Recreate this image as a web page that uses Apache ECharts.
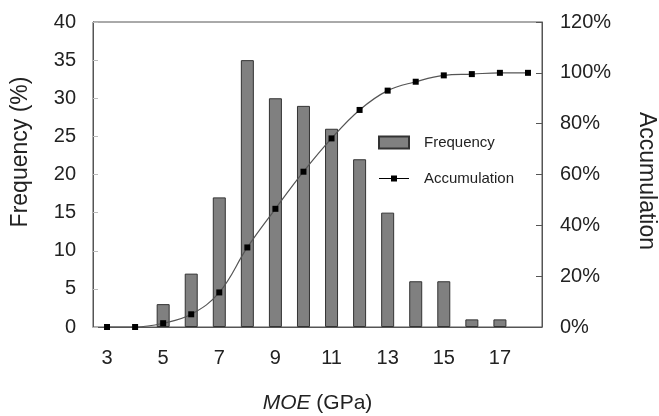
<!DOCTYPE html>
<html>
<head>
<meta charset="utf-8">
<script src="https://cdn.jsdelivr.net/npm/echarts@6/dist/echarts.min.js"></script>
<style>
  html, body { margin: 0; padding: 0; background: #fff; }
  #chart { width: 659px; height: 416px; }
</style>
</head>
<body>
<div id="chart"></div>
<script>
// MOE classes (GPa)
const categories = ['3', '4', '5', '6', '7', '8', '9', '10', '11', '12', '13', '14', '15', '16', '17', '18'];
// Frequency per class (%)
const frequency = [0, 0, 3, 7, 17, 35, 30, 29, 26, 22, 15, 6, 6, 1, 1, 0];
// Cumulative share (%)
const accumulation = [0, 0, 1.5, 5, 13.6, 31.3, 46.5, 61.1, 74.2, 85.4, 93, 96.5, 99, 99.5, 100, 100];
// Left and right axis tick settings
const freqAxis = { min: 0, max: 40, interval: 5 };
const accAxis = { min: 0, max: 120, interval: 20 };

const font = 'Liberation Sans, Arial, sans-serif';
const textColor = '#222';

// empty classes get no bar outline
const barData = frequency.map(v => (v === 0 ? '-' : v));

const chart = echarts.init(document.getElementById('chart'), null, { renderer: 'canvas' });
chart.setOption({
  animation: false,
  backgroundColor: '#fff',
  grid: {
    left: 93, right: 117, top: 22, bottom: 89,
    outerBoundsMode: 'none',
    containLabel: false,
    show: true, borderColor: '#555', borderWidth: 1
  },
  // vertical axis titles
  graphic: [
    {
      type: 'text',
      x: 21, y: 152,
      rotation: Math.PI / 2,
      style: {
        text: 'Frequency (%)',
        font: '23px ' + font,
        fill: textColor,
        align: 'center',
        verticalAlign: 'middle'
      }
    },
    {
      type: 'text',
      x: 646, y: 181,
      rotation: -Math.PI / 2,
      style: {
        text: 'Accumulation',
        font: '23px ' + font,
        fill: textColor,
        align: 'center',
        verticalAlign: 'middle'
      }
    }
  ],
  legend: {
    orient: 'vertical',
    left: 373, top: 130,
    itemWidth: 30, itemHeight: 12,
    itemGap: 21,
    textStyle: { fontFamily: font, fontSize: 15, color: textColor, padding: [0, 0, 0, 10] },
    data: [
      { name: 'Frequency', icon: 'rect' },
      { name: 'Accumulation', icon: 'path://M0,5.4H30V6.6H0Z M12,3H18V9H12Z' }
    ]
  },
  xAxis: {
    type: 'category',
    data: categories,
    boundaryGap: true,
    name: '{i|MOE} (GPa)',
    nameLocation: 'middle',
    nameGap: 66,
    nameTextStyle: {
      fontFamily: font, fontSize: 21, color: textColor,
      rich: { i: { fontFamily: font, fontSize: 21, fontStyle: 'italic', color: textColor } }
    },
    axisLine: { lineStyle: { color: '#555', width: 1 } },
    axisTick: { inside: true, length: 5, interval: 0, alignWithLabel: false, lineStyle: { color: '#555' } },
    axisLabel: { interval: 1, margin: 21, fontFamily: font, fontSize: 20, color: textColor },
    splitLine: { show: false }
  },
  yAxis: [
    {
      type: 'value',
      min: freqAxis.min, max: freqAxis.max, interval: freqAxis.interval,
      axisLine: { show: true, lineStyle: { color: '#555' } },
      axisTick: { show: true, inside: true, length: 5, lineStyle: { color: '#bbb' } },
      axisLabel: { margin: 17, fontFamily: font, fontSize: 20, color: textColor },
      splitLine: { show: false }
    },
    {
      type: 'value',
      position: 'right',
      min: accAxis.min, max: accAxis.max, interval: accAxis.interval,
      axisLine: { show: true, lineStyle: { color: '#555' } },
      axisTick: { show: true, inside: true, length: 6, lineStyle: { color: '#555' } },
      axisLabel: { margin: 18, fontFamily: font, fontSize: 20, color: textColor, formatter: '{value}%' },
      splitLine: { show: false }
    }
  ],
  series: [
    {
      name: 'Frequency',
      type: 'bar',
      yAxisIndex: 0,
      data: barData,
      barWidth: 13,
      itemStyle: { color: '#808080', borderColor: '#333', borderWidth: 1 }
    },
    {
      name: 'Accumulation',
      type: 'line',
      yAxisIndex: 1,
      data: accumulation,
      smooth: 0.4,
      symbol: 'rect',
      symbolSize: 6,
      itemStyle: { color: '#000' },
      lineStyle: { color: '#555', width: 1.2 },
      z: 3
    }
  ]
});
</script>
</body>
</html>
